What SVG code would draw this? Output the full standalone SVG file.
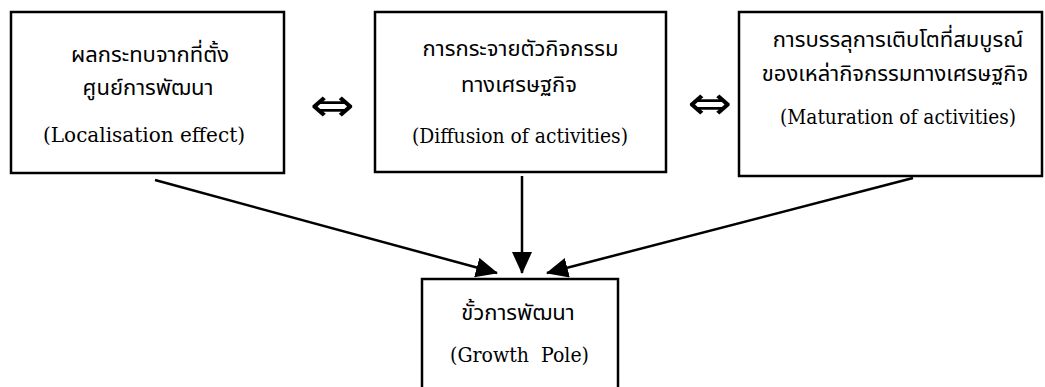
<svg xmlns="http://www.w3.org/2000/svg" width="1045" height="387" viewBox="0 0 1045 387">
<defs>
<style>
.box{fill:#fff;stroke:#000;stroke-width:2.5}
.th{font-family:"Noto Sans Thai","Noto Serif Thai","Loma","Garuda","Norasi","Tlwg Typo","DejaVu Sans",sans-serif;font-size:22px;fill:#000;text-anchor:middle}
.en{font-family:"DejaVu Serif","Liberation Serif",serif;font-size:20px;fill:#000;text-anchor:middle}
.sym{font-family:"DejaVu Sans",sans-serif;font-size:46px;fill:#000;text-anchor:middle}
.conn{stroke:#000;stroke-width:2.5;fill:none;marker-end:url(#ah)}
</style>
<marker id="ah" markerUnits="userSpaceOnUse" markerWidth="22" markerHeight="20" refX="21" refY="10" orient="auto">
<path d="M0,0 L22,10 L0,20 z" fill="#000"/>
</marker>
</defs>
<rect width="1045" height="387" fill="#fff"/>
<g id="connectors">
<line class="conn" x1="155" y1="180" x2="497" y2="273"/>
<line class="conn" x1="522" y1="176" x2="522" y2="273"/>
<line class="conn" x1="913" y1="178" x2="547" y2="273"/>
<text class="sym" x="332.5" y="121" textLength="45" lengthAdjust="spacingAndGlyphs">⇔</text>
<text class="sym" x="710" y="119" textLength="45" lengthAdjust="spacingAndGlyphs">⇔</text>
</g>
<g id="localisation">
<rect class="box" x="11" y="12" width="273" height="161"/>
<text class="th" x="150" y="62">ผลกระทบจากที่ตั้ง</text>
<text class="th" x="148" y="95">ศูนย์การพัฒนา</text>
<text class="en" x="144" y="142" textLength="202" lengthAdjust="spacingAndGlyphs">(Localisation effect)</text>
</g>
<g id="diffusion">
<rect class="box" x="375" y="12" width="291" height="160"/>
<text class="th" x="520.5" y="56">การกระจายตัวกิจกรรม</text>
<text class="th" x="519" y="92">ทางเศรษฐกิจ</text>
<text class="en" x="520" y="143" textLength="216" lengthAdjust="spacingAndGlyphs">(Diffusion of activities)</text>
</g>
<g id="maturation">
<rect class="box" x="739" y="12" width="303" height="164"/>
<text class="th" x="898" y="47">การบรรลุการเติบโตที่สมบูรณ์</text>
<text class="th" x="895" y="81">ของเหล่ากิจกรรมทางเศรษฐกิจ</text>
<text class="en" x="898" y="124" textLength="236" lengthAdjust="spacingAndGlyphs">(Maturation of activities)</text>
</g>
<g id="growthpole">
<rect class="box" x="422" y="279" width="196" height="115"/>
<text class="th" x="518" y="320">ขั้วการพัฒนา</text>
<text class="en" x="519.5" y="362" textLength="139" lengthAdjust="spacingAndGlyphs" xml:space="preserve">(Growth  Pole)</text>
</g>
</svg>
